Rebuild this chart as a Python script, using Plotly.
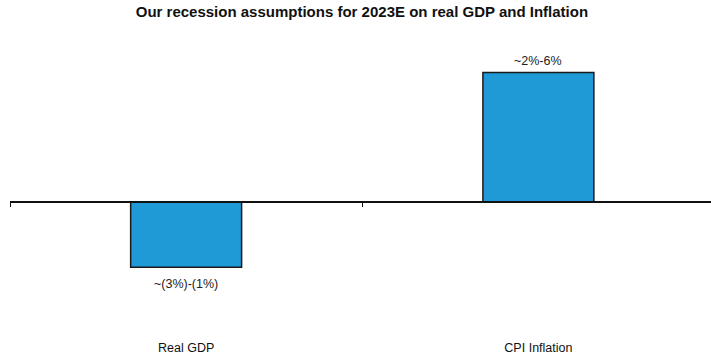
import plotly.graph_objects as go

# Assumption ranges for 2023E, bars drawn at the midpoint of each range
categories = ["Real GDP", "CPI Inflation"]
midpoints = [-2.0, 4.0]
range_labels = ["~(3%)-(1%)", "~2%-6%"]

title = "Our recession assumptions for 2023E on real GDP and Inflation"

y_min, y_max = -4.18, 5.0
zero_pos = (0 - y_min) / (y_max - y_min)

fig = go.Figure()
fig.add_trace(go.Bar(
    x=categories,
    y=midpoints,
    marker=dict(color="#1F9AD6", line=dict(color="#1a1a1a", width=1.5)),
    width=0.315,
    hoverinfo="skip",
))
# carrier trace so the baseline axis at zero gets the same categories
fig.add_trace(go.Scatter(
    x=categories, y=[0, 0], xaxis="x2", mode="none",
    showlegend=False, hoverinfo="skip",
))

# range labels just beyond the end of each bar
for cat, val, lab in zip(categories, midpoints, range_labels):
    fig.add_annotation(
        x=cat, y=val, xref="x", yref="y", text=lab, showarrow=False,
        yanchor="bottom" if val >= 0 else "top",
        yshift=2 if val >= 0 else -8,
        font=dict(size=12.5, color="#222222"),
    )

fig.update_layout(
    width=711, height=358,
    margin=dict(l=10, r=0, t=40, b=20),
    paper_bgcolor="white", plot_bgcolor="white",
    showlegend=False,
    font=dict(family="Liberation Sans, Arial, sans-serif", color="#111111"),
    title=dict(text="<b>" + title + "</b>", x=0.509, xanchor="center",
               y=0.968, yanchor="middle",
               font=dict(size=15, color="#111111")),
    xaxis=dict(type="category", categoryarray=categories,
               range=[-0.5, 1.49], showline=False, showgrid=False,
               zeroline=False, ticks="", tickfont=dict(size=12.5, color="#111111")),
    xaxis2=dict(type="category", categoryarray=categories,
                overlaying="x", matches="x", anchor="free", position=zero_pos,
                side="bottom", showline=True, linecolor="#111111", linewidth=1.5,
                ticks="outside", tickson="boundaries", ticklen=4,
                tickcolor="#111111", tickwidth=1, showticklabels=False,
                showgrid=False, zeroline=False),
    yaxis=dict(range=[y_min, y_max], visible=False, showgrid=False,
               zeroline=False),
)

fig.write_html("out.html")
